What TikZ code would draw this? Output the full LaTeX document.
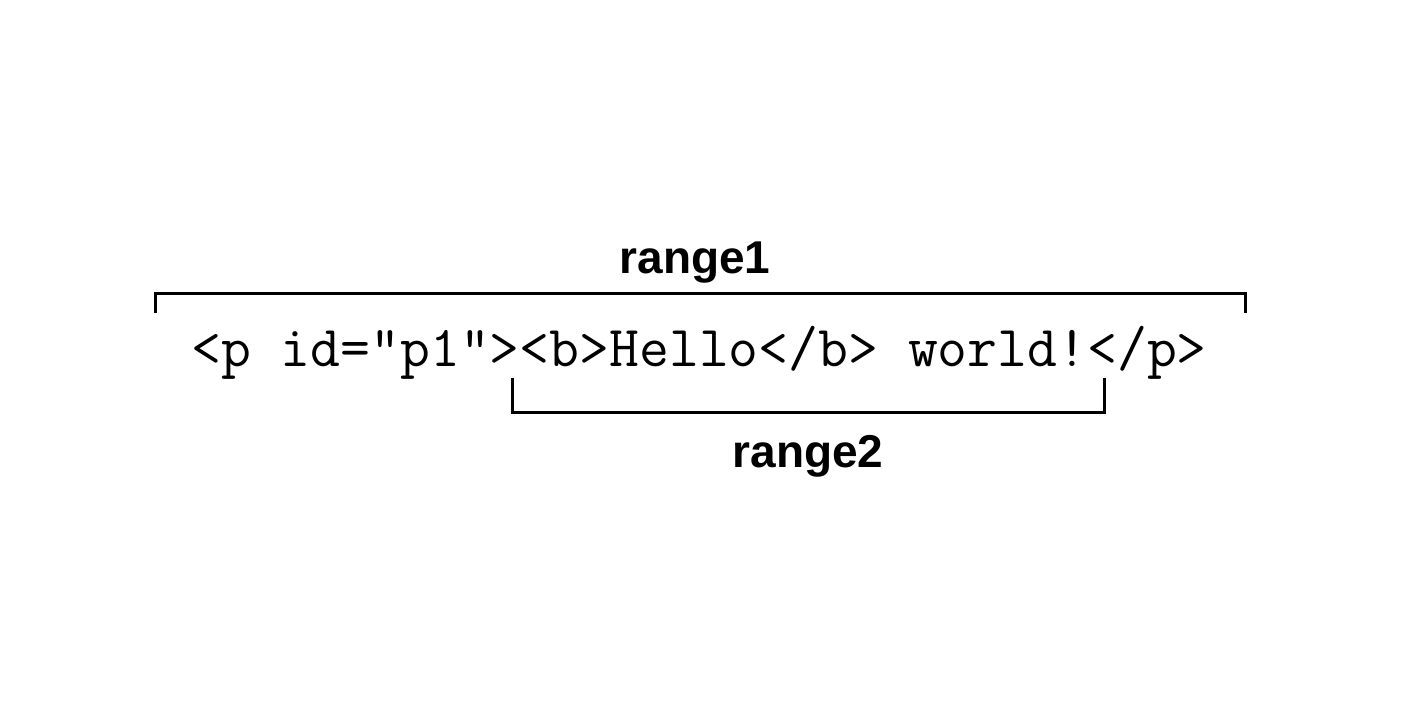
\documentclass[tikz,border=0pt]{standalone}
\usepackage{fontspec}
\usepackage{tikz}
\usetikzlibrary{positioning}
\newfontfamily\rangefont{Liberation Sans}

\begin{document}
\begin{tikzpicture}[x=0.5pt,y=-0.5pt]
	\tikzset{code/.style={font=\ttfamily\fontsize{29}{34}\selectfont, inner sep=0pt, anchor=base}}
	\tikzset{rangelbl/.style={font=\rangefont\bfseries\fontsize{23}{28}\selectfont, inner sep=0pt, anchor=base}}
	\tikzset{brk/.style={line width=1.5pt, line cap=butt, line join=miter}}
	\useasboundingbox (0,0) rectangle (1416,712);
	\node[code] (html) at (699,366) {<p id="p1"><b>Hello</b> world!</p>};
	% range1 over the whole element
	\node[rangelbl] (range1) at (695,273) {range1};
	\coordinate (r1 left) at (155,313);
	\coordinate (r1 right) at (1245,313);
	\draw[brk] (r1 left) -- ++(0,-20) -| (r1 right);
	% range2 under the inner part
	\node[rangelbl] (range2) at (808,467) {range2};
	\coordinate (r2 left) at (512,378);
	\coordinate (r2 right) at (1104,378);
	\draw[brk] (r2 left) -- ++(0,34) -| (r2 right);
\end{tikzpicture}
\end{document}
